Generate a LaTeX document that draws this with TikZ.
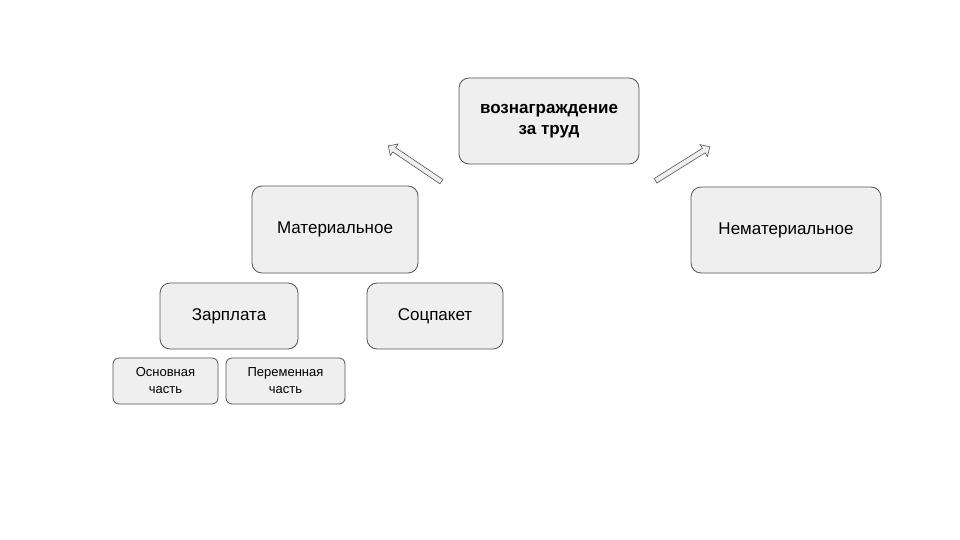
\documentclass[tikz,border=0pt]{standalone}
\usepackage{fontspec}
\setmainfont{Liberation Sans}
\usetikzlibrary{shapes.arrows}
\definecolor{boxfill}{HTML}{EFEFEF}
\definecolor{boxline}{HTML}{555555}
\begin{document}
\begin{tikzpicture}[x=1pt,y=-1pt,
  box/.style={draw=boxline,fill=boxfill,rounded corners=10pt,line width=0.8pt,align=center,font=\fontsize{17}{21}\selectfont},
  sbox/.style={draw=boxline,fill=boxfill,rounded corners=6pt,line width=0.8pt,align=center,font=\fontsize{13}{17}\selectfont},
  barrow/.style={single arrow,draw=boxline,fill=boxfill,line width=0.6pt,minimum height=64pt,minimum width=14pt,single arrow head extend=3pt,single arrow head indent=0pt,inner sep=1.5pt}]
\useasboundingbox (0,0) rectangle (960,540);
\fill[white] (0,0) rectangle (960,540);
\draw[box] (459,78) rectangle (639,164) node[midway,font=\fontsize{17}{21}\selectfont\bfseries,align=center] (top) {вознаграждение\\за труд};
\draw[box] (252,186) rectangle (418,273) node[midway,font=\fontsize{17}{21}\selectfont] (mat) {Материальное};
\draw[box] (691,187) rectangle (881,273) node[midway,font=\fontsize{17}{21}\selectfont] (nemat) {Нематериальное};
\draw[box] (160,283) rectangle (298,349) node[midway,font=\fontsize{17}{21}\selectfont] (zp) {Зарплата};
\draw[box] (367,283) rectangle (503,349) node[midway,font=\fontsize{17}{21}\selectfont] (soc) {Соцпакет};
\draw[sbox] (113,358) rectangle (218,404) node[midway,font=\fontsize{13}{17}\selectfont,align=center] (osn) {Основная\\часть};
\draw[sbox] (226,358) rectangle (345,404) node[midway,font=\fontsize{13}{17}\selectfont,align=center] (per) {Переменная\\часть};
\node[barrow,rotate=146] (a1) at (416,164.5) {};
\node[barrow,rotate=32] (a2) at (681.5,164.5) {};
\end{tikzpicture}
\end{document}
